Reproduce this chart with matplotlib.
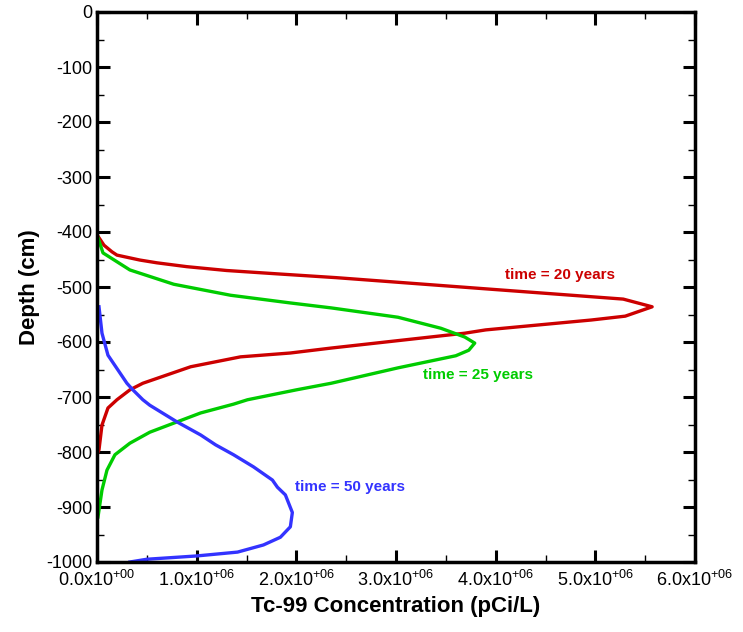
import matplotlib
matplotlib.use("Agg")
import matplotlib.pyplot as plt
from matplotlib.ticker import MultipleLocator, FixedLocator, FixedFormatter

plt.rcParams['font.family'] = ['Liberation Sans', 'DejaVu Sans']
plt.rcParams['mathtext.fontset'] = 'custom'
plt.rcParams['mathtext.rm'] = 'Liberation Sans'
plt.rcParams['axes.unicode_minus'] = False

# concentration in units of 1e6 pCi/L, depth in cm
depth_20 = [-405, -424, -436, -442, -451, -456, -463, -470, -476, -483,
            -502, -522, -536, -553, -560, -578, -584, -611, -620, -627, -645,
            -675, -687, -705, -720, -751, -796, -805]
conc_20 = [0.0, 0.07, 0.15, 0.20, 0.43, 0.60, 0.90, 1.30, 1.80, 2.40,
           3.80, 5.28, 5.57, 5.30, 4.96, 3.90, 3.69, 2.35, 1.94, 1.44, 0.94,
           0.46, 0.33, 0.20, 0.11, 0.05, 0.02, 0.0]

depth_25 = [-405, -438, -469, -495, -515, -529, -538, -555, -575, -591, -602,
            -615, -625, -647, -675, -687, -705, -713, -729, -764, -784, -805,
            -833, -869, -918]
conc_25 = [0.0, 0.06, 0.33, 0.77, 1.34, 1.94, 2.35, 3.02, 3.45, 3.69, 3.79,
           3.73, 3.60, 3.02, 2.35, 2.00, 1.51, 1.37, 1.04, 0.53, 0.33, 0.18,
           0.10, 0.05, 0.01]

depth_50 = [-536, -584, -624, -675, -687, -705, -715, -745, -769, -787, -805,
            -827, -851, -864, -878, -910, -936, -955, -969, -982, -989, -995,
            -1000]
conc_50 = [0.02, 0.05, 0.11, 0.30, 0.36, 0.46, 0.53, 0.80, 1.04, 1.19, 1.37,
           1.57, 1.76, 1.81, 1.89, 1.96, 1.94, 1.84, 1.67, 1.41, 1.00, 0.50,
           0.33]

x_ticks = [0, 1e6, 2e6, 3e6, 4e6, 5e6, 6e6]
x_tick_labels = [r'0.0x10$^{+00}$', r'1.0x10$^{+06}$', r'2.0x10$^{+06}$',
                 r'3.0x10$^{+06}$', r'4.0x10$^{+06}$', r'5.0x10$^{+06}$',
                 r'6.0x10$^{+06}$']

RED = '#CC0000'
GREEN = '#00CC00'
BLUE = '#3333FF'

fig = plt.figure(figsize=(7.43, 6.32), dpi=100)
ax = fig.add_axes([97 / 743, 70 / 632, 598 / 743, 550 / 632])

ax.plot([c * 1e6 for c in conc_20], depth_20, color=RED, lw=2.4)
ax.plot([c * 1e6 for c in conc_25], depth_25, color=GREEN, lw=2.4)
ax.plot([c * 1e6 for c in conc_50], depth_50, color=BLUE, lw=2.4)

ax.text(4.09e6, -478, 'time = 20 years', color=RED, fontsize=11,
        fontweight='bold', va='center', ha='left')
ax.text(3.27e6, -660, 'time = 25 years', color=GREEN, fontsize=11,
        fontweight='bold', va='center', ha='left')
ax.text(1.99e6, -864, 'time = 50 years', color=BLUE, fontsize=11,
        fontweight='bold', va='center', ha='left')

ax.set_xlim(0, 6e6)
ax.set_ylim(-1000, 0)
ax.xaxis.set_major_locator(FixedLocator(x_ticks))
ax.xaxis.set_major_formatter(FixedFormatter(x_tick_labels))
ax.xaxis.set_minor_locator(MultipleLocator(0.5e6))
ax.yaxis.set_major_locator(MultipleLocator(100))
ax.yaxis.set_minor_locator(MultipleLocator(50))

ax.tick_params(which='both', direction='in', top=True, right=True,
               labelsize=13)
ax.tick_params(which='major', length=9, width=2.2)
ax.tick_params(which='minor', length=5, width=1.0)
ax.tick_params(axis='x', pad=6)
for sp in ax.spines.values():
    sp.set_linewidth(2.5)

ax.set_xlabel('Tc-99 Concentration (pCi/L)', fontsize=16, fontweight='bold')
ax.set_ylabel('Depth (cm)', fontsize=16, fontweight='bold')

fig.savefig('out.png', dpi=100)
